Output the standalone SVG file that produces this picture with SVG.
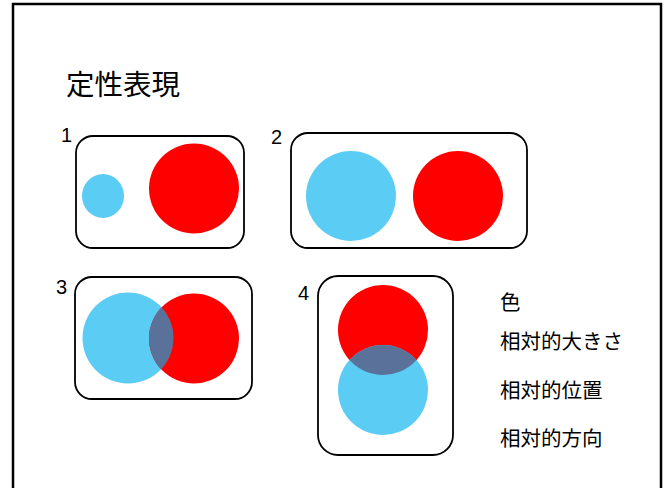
<svg xmlns="http://www.w3.org/2000/svg" width="667" height="488" viewBox="0 0 667 488">
<style>
.box{fill:none;stroke:#000;stroke-width:1.8}
.blue{fill:#5bccf4}
.red{fill:#ff0000}
.mix{fill:#5a7199}
.num{font-family:"Liberation Sans",Arial,sans-serif;font-size:20px;fill:#000}
.jp{font-family:"Noto Sans CJK JP","Noto Sans",sans-serif;fill:#000}
.lab{font-size:20.5px}
</style>
<defs>
<clipPath id="c3"><circle cx="128" cy="338" r="45.5"/></clipPath>
<clipPath id="c4"><circle cx="383" cy="330" r="45"/></clipPath>
</defs>
<rect x="13" y="4" width="648" height="500" fill="#fff" stroke="#000" stroke-width="2.5"/>
<text class="jp" x="66" y="95" font-size="28.5">定性表現</text>
<g id="panel1">
<text class="num" x="61" y="142">1</text>
<rect class="box" x="76" y="136" width="168" height="112" rx="17"/>
<ellipse class="blue" cx="103" cy="196" rx="21" ry="22"/>
<circle class="red" cx="194" cy="188.5" r="45"/>
</g>
<g id="panel2">
<text class="num" x="271" y="144">2</text>
<rect class="box" x="291" y="133" width="236" height="115" rx="17"/>
<circle class="blue" cx="351" cy="196" r="45"/>
<circle class="red" cx="458" cy="196" r="45"/>
</g>
<g id="panel3">
<text class="num" x="56" y="294">3</text>
<rect class="box" x="75" y="277" width="177" height="122" rx="17"/>
<circle class="blue" cx="128" cy="338" r="45.5"/>
<circle class="red" cx="194" cy="338.5" r="45"/>
<circle class="mix" cx="194" cy="338.5" r="45" clip-path="url(#c3)"/>
</g>
<g id="panel4">
<text class="num" x="298" y="300">4</text>
<rect class="box" x="318" y="276" width="135" height="179" rx="20"/>
<circle class="red" cx="383" cy="330" r="45"/>
<circle class="blue" cx="383" cy="390" r="45"/>
<circle class="mix" cx="383" cy="390" r="45" clip-path="url(#c4)"/>
</g>
<g id="labels">
<text class="jp lab" x="500" y="310">色</text>
<text class="jp lab" x="500" y="349">相対的大きさ</text>
<text class="jp lab" x="500" y="398">相対的位置</text>
<text class="jp lab" x="500" y="446">相対的方向</text>
</g>
</svg>
